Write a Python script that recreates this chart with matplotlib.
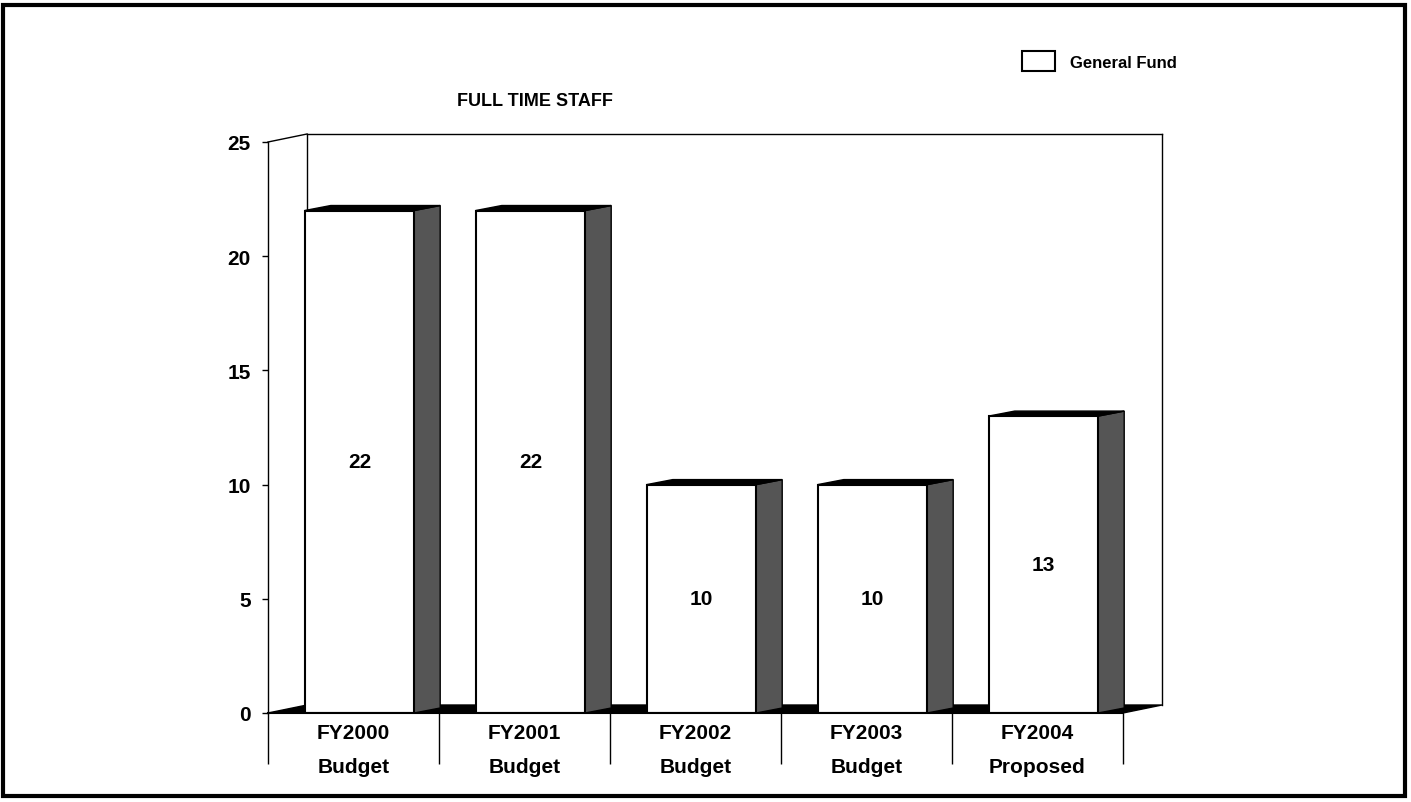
import matplotlib.pyplot as plt
from matplotlib.patches import Polygon, Rectangle

plt.rcParams['font.family'] = ['Liberation Sans', 'DejaVu Sans']
plt.rcParams['font.weight'] = 'bold'

categories = ['FY2000\nBudget', 'FY2001\nBudget', 'FY2002\nBudget',
              'FY2003\nBudget', 'FY2004\nProposed']
staff = [22, 22, 10, 10, 13]
yticks = [0, 5, 10, 15, 20, 25]

W, H = 1411, 803
fig = plt.figure(figsize=(W / 100, H / 100), dpi=100)

# axes placed so that the front plane of the 3d box matches the reference
x0, x1, y0, y1 = 268, 1123, 714, 143
ax = fig.add_axes([x0 / W, 1 - y0 / H, (x1 - x0) / W, (y0 - y1) / H])
ax.set_xlim(-0.5, 4.5)
ax.set_ylim(0, 25)

# depth offsets (data units)
wdx, wdy = 39 / 171, 8 / 22.85   # walls / floor
bdx, bdy = 26 / 171, 5 / 22.85   # bars
off, bw = 0.035, 0.64

# back walls
kw = dict(color='black', lw=1, clip_on=False, zorder=1)
ax.plot([-0.5, -0.5 + wdx], [25, 25 + wdy], **kw)
ax.plot([-0.5 + wdx, 4.5 + wdx], [25 + wdy, 25 + wdy], **kw)
ax.plot([-0.5 + wdx, -0.5 + wdx], [wdy, 25 + wdy], **kw)
ax.plot([4.5 + wdx, 4.5 + wdx], [wdy, 25 + wdy], **kw)

# floor
ax.add_patch(Polygon([(-0.5, 0), (4.5, 0), (4.5 + wdx, wdy), (-0.5 + wdx, wdy)],
                     closed=True, facecolor='black', edgecolor='black',
                     clip_on=False, zorder=1.5))

xs = list(range(len(staff)))
bars = ax.bar([x + off for x in xs], staff, width=bw, color='white',
              edgecolor='black', lw=1.5, zorder=3, label='General Fund')

for x, v in zip(xs, staff):
    l = x + off - bw / 2
    r = x + off + bw / 2
    ax.add_patch(Polygon([(r, 0), (r, v), (r + bdx, v + bdy), (r + bdx, bdy)],
                         closed=True, facecolor='#555555', edgecolor='black',
                         lw=1, zorder=2.5, clip_on=False))
    ax.add_patch(Polygon([(l, v), (l + bdx, v + bdy), (r + bdx, v + bdy), (r, v)],
                         closed=True, facecolor='black', edgecolor='black',
                         lw=1, zorder=2.6, clip_on=False))
    ax.text(x + off, v / 2, str(v), ha='center', va='center', fontsize=15,
            fontweight='bold', zorder=4)

for s in ['top', 'right']:
    ax.spines[s].set_visible(False)
ax.spines['left'].set_linewidth(1)
ax.spines['bottom'].set_linewidth(1.5)
ax.spines['bottom'].set_zorder(5)

ax.set_yticks(yticks)
ax.set_yticklabels([str(t) for t in yticks], fontsize=15, fontweight='bold')
ax.tick_params(axis='y', length=4.5, width=1, pad=8)

ax.set_xticks(xs)
ax.set_xticklabels(categories, fontsize=15, fontweight='bold', linespacing=2.0)
ax.set_xticks([-0.5, 0.5, 1.5, 2.5, 3.5, 4.5], minor=True)
ax.tick_params(axis='x', which='major', length=0, pad=7)
ax.tick_params(axis='x', which='minor', length=37, width=1, direction='out')

fig.text(535 / W, 1 - 101 / H, 'FULL TIME STAFF', ha='center', va='center',
         fontsize=13, fontweight='bold')

leg = fig.legend(handles=[bars], loc='center left',
                 bbox_to_anchor=(1022 / W, 1 - 62 / H), frameon=False,
                 fontsize=12, handlelength=1.95, handleheight=1.4,
                 handletextpad=0.95, borderpad=0, borderaxespad=0)
for t in leg.get_texts():
    t.set_fontweight('bold')

# outer frame
fig.patches.append(Rectangle((3 / W, 6 / H), (W - 9) / W, (H - 12) / H,
                             transform=fig.transFigure, fill=False,
                             edgecolor='black', lw=3))

fig.savefig('out.png', dpi=100)
